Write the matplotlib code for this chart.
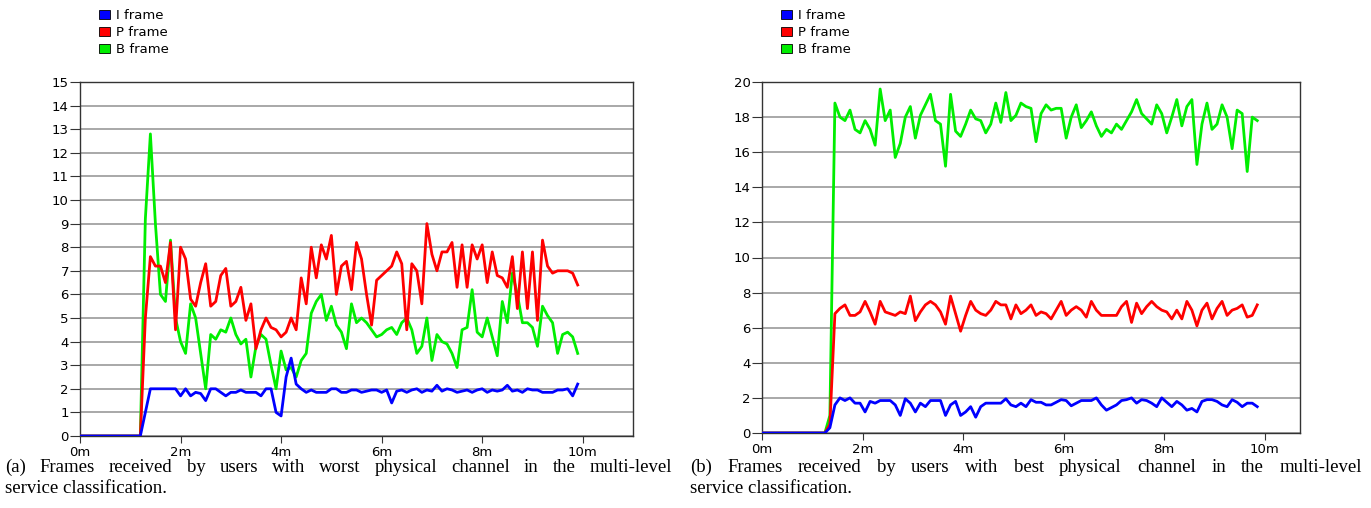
import numpy as np
import matplotlib.pyplot as plt
from matplotlib.patches import Patch

# time grids (minutes); left panel sampled from 1.2 m, right panel from 1.25 m
t_worst = np.round(np.arange(1.2, 9.95, 0.1), 2)
t_best = np.round(np.arange(1.25, 9.9, 0.1), 2)

# (a) worst physical channel
i_worst = [0, 1.0, 2.0, 2.0, 2.0, 2.0, 2.0, 2.0, 1.7, 2.0,
           1.7, 1.85, 1.8, 1.5, 2.0, 2.0, 1.85, 1.7, 1.85, 1.85,
           1.95, 1.85, 1.85, 1.85, 1.7, 2.0, 2.0, 1.0, 0.85, 2.5,
           3.3, 2.2, 2.0, 1.85, 1.95, 1.85, 1.85, 1.85, 2.0, 2.0,
           1.85, 1.85, 1.95, 1.95, 1.85, 1.9, 1.95, 1.95, 1.85, 1.95,
           1.4, 1.9, 1.95, 1.85, 1.95, 2.0, 1.85, 1.95, 1.9, 2.15,
           1.9, 2.0, 1.95, 1.85, 1.9, 1.95, 1.85, 1.95, 2.0, 1.85,
           1.95, 1.9, 1.95, 2.15, 1.9, 1.95, 1.85, 2.0, 1.95, 1.95,
           1.85, 1.85, 1.85, 1.95, 1.95, 2.0, 1.7, 2.2]
p_worst = [0, 5.0, 7.6, 7.2, 7.2, 6.5, 8.2, 4.5, 8.0, 7.5,
           5.8, 5.5, 6.5, 7.3, 5.5, 5.7, 6.8, 7.1, 5.5, 5.7,
           6.3, 4.9, 5.6, 3.7, 4.5, 5.0, 4.6, 4.5, 4.2, 4.4,
           5.0, 4.5, 6.7, 5.6, 8.0, 6.7, 8.1, 7.5, 8.5, 6.0,
           7.2, 7.4, 6.2, 8.2, 7.5, 6.0, 4.7, 6.6, 6.8, 7.0,
           7.2, 7.8, 7.3, 4.5, 7.3, 7.0, 5.6, 9.0, 7.7, 7.0,
           7.8, 7.8, 8.2, 6.3, 8.1, 6.3, 8.1, 7.5, 8.1, 6.5,
           7.8, 6.8, 6.7, 6.3, 7.6, 5.4, 7.8, 5.4, 7.8, 4.9,
           8.3, 7.2, 6.9, 7.0, 7.0, 7.0, 6.9, 6.4]
b_worst = [0, 9.2, 12.8, 9.0, 6.0, 5.7, 8.3, 5.0, 4.0, 3.5,
           5.6, 5.0, 3.5, 2.0, 4.3, 4.1, 4.5, 4.4, 5.0, 4.3,
           3.9, 4.1, 2.5, 3.8, 4.3, 4.1, 3.0, 2.0, 3.6, 2.8,
           2.9, 2.5, 3.2, 3.5, 5.2, 5.7, 6.0, 4.9, 5.5, 4.7,
           4.4, 3.7, 5.6, 4.8, 5.0, 4.8, 4.5, 4.2, 4.3, 4.5,
           4.6, 4.3, 4.8, 5.0, 4.5, 3.5, 3.8, 5.0, 3.2, 4.3,
           4.0, 3.9, 3.5, 2.9, 4.5, 4.6, 6.2, 4.4, 4.2, 5.0,
           4.2, 3.4, 5.7, 4.8, 6.9, 6.0, 4.8, 4.8, 4.6, 3.8,
           5.5, 5.1, 4.8, 3.5, 4.3, 4.4, 4.2, 3.5]

# (b) best physical channel
i_best = [0, 0.3, 1.6, 2.0, 1.85, 2.0, 1.7, 1.7, 1.2, 1.8,
          1.7, 1.85, 1.85, 1.85, 1.6, 1.0, 1.95, 1.7, 1.2, 1.7,
          1.5, 1.85, 1.85, 1.85, 1.0, 1.6, 1.8, 1.0, 1.2, 1.5,
          0.9, 1.5, 1.7, 1.7, 1.7, 1.7, 1.95, 1.6, 1.5,
          1.7, 1.5, 1.9, 1.75, 1.75, 1.6, 1.6, 1.75, 1.9, 1.85,
          1.55, 1.7, 1.85, 1.85, 1.85, 2.0, 1.6, 1.3, 1.45, 1.6,
          1.85, 1.9, 2.0, 1.7, 1.9, 1.85, 1.7, 1.5, 2.0, 1.75,
          1.5, 1.8, 1.6, 1.3, 1.4, 1.2, 1.8, 1.9, 1.9, 1.8,
          1.6, 1.5, 1.9, 1.75, 1.5, 1.7, 1.7, 1.5]
p_best = [0, 0.5, 6.8, 7.1, 7.3, 6.7, 6.7, 6.9, 7.5, 6.9,
          6.2, 7.5, 6.9, 6.8, 6.7, 6.9, 6.8, 7.8, 6.4, 6.9,
          7.3, 7.5, 7.3, 6.9, 6.2, 7.8, 6.8, 5.8, 6.7, 7.5,
          7.0, 6.8, 6.7, 7.0, 7.5, 7.3, 7.3, 6.5, 7.3,
          6.8, 7.0, 7.3, 6.7, 6.9, 6.8, 6.5, 7.0, 7.5, 6.7,
          7.0, 7.2, 7.0, 6.6, 7.5, 7.0, 6.7, 6.7, 6.7, 6.7,
          7.2, 7.5, 6.3, 7.4, 6.8, 7.2, 7.5, 7.2, 7.0, 6.9,
          6.5, 7.0, 6.5, 7.5, 7.0, 6.1, 7.0, 7.4, 6.5, 7.1,
          7.5, 6.7, 7.0, 7.1, 7.3, 6.6, 6.7, 7.3]
b_best = [0, 1.0, 18.8, 18.0, 17.8, 18.4, 17.3, 17.1, 17.8, 17.3,
          16.4, 19.6, 17.8, 18.4, 15.7, 16.5, 18.0, 18.6, 16.8, 18.1,
          18.7, 19.3, 17.8, 17.6, 15.2, 19.3, 17.2, 16.9, 17.6, 18.4,
          17.9, 17.8, 17.1, 17.6, 18.8, 17.7, 19.4, 17.8, 18.1,
          18.8, 18.6, 18.5, 16.6, 18.2, 18.7, 18.4, 18.5, 18.5, 16.8,
          18.0, 18.7, 17.4, 17.8, 18.3, 17.5, 16.9, 17.3, 17.1, 17.6,
          17.3, 17.8, 18.3, 19.0, 18.2, 17.9, 17.6, 18.7, 18.2, 17.1,
          18.0, 19.0, 17.5, 18.6, 19.0, 15.3, 17.6, 18.8, 17.3, 17.6,
          18.7, 18.0, 16.2, 18.4, 18.2, 14.9, 18.0, 17.8]

labels = ['I frame', 'P frame', 'B frame']
colors = ['#0000ff', '#ff0000', '#00ee00']
xticks = [0, 2, 4, 6, 8, 10]
xticklabels = ['0m', '2m', '4m', '6m', '8m', '10m']

captions = [
    ['(a) Frames received by users with worst physical channel in the multi-level',
     'service classification.'],
    ['(b) Frames received by users with best physical channel in the multi-level',
     'service classification.'],
]

W, H = 1371, 508
fig = plt.figure(figsize=(W / 100, H / 100), dpi=100)
sans = ['DejaVu Sans']
serif = ['Liberation Serif', 'DejaVu Serif']
cap_size = 13.5


def justified(x0, x1, ybase, line):
    # place words one by one so the line fills x0..x1 (pixels)
    r = fig.canvas.get_renderer()
    words = line.split()
    txts = [fig.text(0, 1 - ybase / H, w, ha='left', va='baseline',
                     family=serif, fontsize=cap_size) for w in words]
    widths = [t.get_window_extent(r).width for t in txts]
    gap = (x1 - x0 - sum(widths)) / (len(words) - 1)
    x = x0
    for t, w in zip(txts, widths):
        t.set_x(x / W)
        x += w + gap


def panel(rect, t, series, ymax, ystep, xmax, leg_xy, cap_x0, cap_x1, cap):
    ax = fig.add_axes([rect[0] / W, 1 - rect[3] / H,
                       (rect[2] - rect[0]) / W, (rect[3] - rect[1]) / H])
    # draw B, then P, then I on top
    for idx in [2, 1, 0]:
        x = np.concatenate([[0.0], t])
        y = np.concatenate([[0.0], series[idx]])
        ax.plot(x, y, color=colors[idx], lw=2.0, zorder=3)
    ax.set_xlim(0, xmax)
    ax.set_ylim(0, ymax)
    ax.set_yticks(np.arange(0, ymax + 0.1, ystep))
    ax.set_xticks(xticks)
    ax.set_xticklabels(xticklabels)
    ax.yaxis.grid(True, color='#9a9a9a', lw=1.2)
    ax.set_axisbelow(True)
    ax.tick_params(axis='both', labelsize=9.5, width=0.8, color='#333333')
    ax.tick_params(axis='y', length=7, pad=1)
    ax.tick_params(axis='x', length=5, pad=2)
    for lab in ax.get_xticklabels() + ax.get_yticklabels():
        lab.set_family(sans)
    for s in ax.spines.values():
        s.set_color('#333333')
        s.set_linewidth(1.0)
    handles = [Patch(facecolor=c, edgecolor='black', lw=0.6) for c in colors]
    fig.legend(handles, labels, loc='upper left',
               bbox_to_anchor=(leg_xy[0] / W, 1 - leg_xy[1] / H),
               frameon=False, prop={'family': sans, 'size': 9.5},
               handlelength=0.85, handleheight=0.7, handletextpad=0.45,
               labelspacing=0.3, borderpad=0, borderaxespad=0)
    justified(cap_x0, cap_x1, 472, cap[0])
    fig.text(cap_x0 / W, 1 - 493 / H, cap[1], ha='left', va='baseline',
             family=serif, fontsize=cap_size)
    return ax


panel((80, 82, 633, 436), t_worst, [i_worst, p_worst, b_worst], 15, 1, 11.0,
      (99, 9), 5, 672, captions[0])
panel((762, 82, 1300, 433), t_best, [i_best, p_best, b_best], 20, 2, 10.7,
      (781, 9), 690, 1362, captions[1])

fig.savefig('out.png', dpi=100)
